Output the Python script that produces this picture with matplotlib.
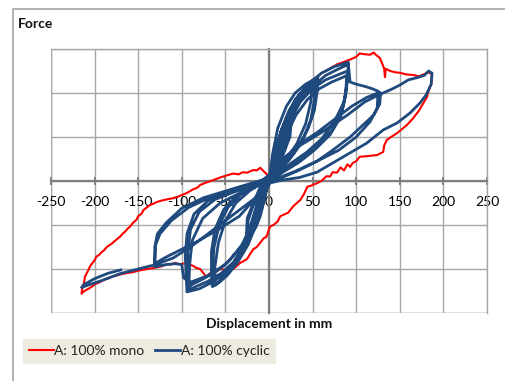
import matplotlib
matplotlib.use("Agg")
import matplotlib.pyplot as plt
from matplotlib.patches import Rectangle

plt.rcParams['font.family'] = ['Lato', 'DejaVu Sans']
plt.rcParams['axes.unicode_minus'] = False

# ---------------- data ----------------
x_ticks = [-250, -200, -150, -100, -50, 0, 50, 100, 150, 200, 250]
x_tick_labels = ['-250', '-200', '-150', '-100', '-50', '0', '50', '100', '150', '200', '250']
y_grid = [-3, -2, -1, 0, 1, 2, 3]

# monotonic test (red)
mono_x = [0, 5, 10, 15, 20, 25, 30, 35, 40, 45, 50, 55, 60, 65, 70, 78, 85, 93, 100, 104, 110, 116, 120, 123, 127,
          130, 132, 133, 134, 139, 145, 150, 158, 165, 172, 178, 183, 187,
          186, 183, 181, 177, 172, 165, 158, 150, 147, 140, 135, 132, 131, 124, 115, 104, 100, 96, 93, 90, 86, 82,
          78, 73, 70, 66, 60, 55, 49, 44, 40, 36, 32, 28, 22, 13, 10, 5, 1, -3, -6, -10, -14, -18, -22, -25, -30,
          -33, -38, -41, -45, -50, -56, -62, -68, -72, -75, -79, -84, -87, -91, -96, -102, -108, -113, -117, -122,
          -125, -133, -140, -145, -150, -156, -165, -170, -175, -180, -185, -190, -194, -199, -203, -207, -210,
          -213, -215,
          -214, -212, -211, -208, -205, -202, -200, -198, -195, -192, -189, -186, -183, -180, -178, -176, -173,
          -171, -168, -165, -162, -160, -156, -152, -150, -146, -144, -140, -137, -133, -129, -124, -120, -115,
          -110, -105, -100, -94, -87, -82, -79, -74, -70, -64, -56, -48, -41, -35, -30, -25, -18, -14, -10, -5, 0]
mono_y = [0, 0.42, 0.78, 1.05, 1.3, 1.5, 1.72, 1.9, 2.05, 2.15, 2.27, 2.36, 2.45, 2.5, 2.56, 2.65, 2.7, 2.76, 2.82,
          2.9, 2.88, 2.87, 2.92, 2.86, 2.8, 2.66, 2.56, 2.36, 2.55, 2.5, 2.47, 2.46, 2.42, 2.41, 2.38, 2.43, 2.47,
          2.42,
          2.2, 2.05, 1.9, 1.77, 1.6, 1.42, 1.27, 1.14, 1.09, 1.0, 0.93, 0.8, 0.66, 0.59, 0.57, 0.55, 0.45, 0.41,
          0.32, 0.38, 0.24, 0.31, 0.19, 0.2, 0.1, 0.11, 0.0, -0.05, -0.1, -0.13, -0.3, -0.43, -0.5, -0.57, -0.72,
          -0.8, -0.92, -1.0, -1.04, -1.27, -1.3, -1.4, -1.5, -1.55, -1.67, -1.77, -1.83, -1.86, -1.95, -2.0, -1.93,
          -2.02, -2.0, -2.07, -2.1, -2.18, -2.1, -2.0, -1.97, -1.93, -1.9, -1.87, -1.89, -1.86, -1.9, -1.89, -1.93,
          -1.95, -1.98, -2.0, -2.02, -2.04, -2.07, -2.1, -2.12, -2.15, -2.17, -2.22, -2.25, -2.3, -2.34, -2.4,
          -2.45, -2.48, -2.52, -2.56,
          -2.42, -2.3, -2.17, -2.06, -1.93, -1.85, -1.8, -1.72, -1.68, -1.62, -1.57, -1.5, -1.46, -1.42, -1.38,
          -1.35, -1.3, -1.27, -1.2, -1.15, -1.08, -1.05, -0.95, -0.88, -0.8, -0.74, -0.66, -0.6, -0.55, -0.52,
          -0.48, -0.45, -0.43, -0.41, -0.39, -0.36, -0.32, -0.27, -0.19, -0.15, -0.09, -0.05, -0.02, 0.02, 0.08,
          0.13, 0.17, 0.15, 0.2, 0.19, 0.25, 0.24, 0.3, 0.2, 0.1]

# cyclic test (blue), one list pair per amplitude group
cyc25_x = [0, 5, 10, 15, 20, 25, 23, 18, 10, 0, -5, -10, -15, -20, -25, -24, -18, -10, 0,
           5, 12, 20, 26, 24, 15, 5, -2, -8, -16, -26, -25, -17, -8, 0]
cyc25_y = [0, 0.5, 0.9, 1.2, 1.4, 1.5, 1.1, 0.7, 0.35, 0.05, -0.4, -0.8, -1.05, -1.2, -1.3, -0.9, -0.55, -0.3, 0,
           0.45, 0.95, 1.3, 1.45, 1.0, 0.55, 0.2, -0.1, -0.6, -1.0, -1.25, -0.85, -0.45, -0.2, 0]

cyc60_x = [4, 10, 20, 30, 42, 56, 55, 52, 45, 35, 22, 10, -4, -8, -14, -24, -36, -48, -60, -65, -66, -66, -62, -52,
           -38, -20, 4,
           8, 14, 23, 34, 44, 53, 52, 48, 40, 28, 15, -2, -10, -17, -27, -39, -50, -58, -64, -65, -63, -57, -47, -32,
           -15, 6,
           10, 17, 26, 36, 45, 50, 48, 42, 32, 20, 8, -8, -15, -24, -35, -46, -56, -62, -62, -58, -50, -38, -22, -8, 2]
cyc60_y = [0.6, 1.2, 1.7, 2.0, 2.2, 2.36, 2.0, 1.6, 1.2, 0.8, 0.45, 0.2, -0.05, -0.4, -0.95, -1.45, -1.85, -2.15,
           -2.35, -2.4, -2.1, -1.6, -1.1, -0.65, -0.35, -0.15, 0.05,
           0.6, 1.15, 1.6, 1.95, 2.15, 2.28, 1.85, 1.4, 1.0, 0.62, 0.32, 0.05, -0.5, -1.0, -1.5, -1.9, -2.15, -2.3,
           -2.38, -2.05, -1.5, -1.0, -0.6, -0.3, -0.12, 0.1,
           0.55, 1.1, 1.55, 1.9, 2.1, 2.2, 1.8, 1.3, 0.85, 0.5, 0.15, -0.1, -0.6, -1.2, -1.7, -2.05, -2.28, -2.35,
           -1.95, -1.4, -0.9, -0.5, -0.22, -0.05, 0.05]

cyc90_x = [5, 12, 20, 30, 45, 60, 75, 91, 90, 86, 75, 60, 43, 25, 10, -6, -10, -16, -25, -37, -50, -65, -80, -94,
           -95, -96, -94, -86, -70, -48, -25, 3,
           9, 16, 25, 36, 50, 65, 80, 90, 89, 84, 72, 56, 38, 20, 2, -9, -17, -28, -41, -55, -70, -84, -92, -93,
           -93, -90, -80, -62, -40, -18, 5,
           12, 20, 31, 44, 58, 72, 84, 89, 88, 82, 70, 52, 34, 16, -3, -12, -20, -31, -45, -60, -75, -88, -92, -91,
           -88, -76, -56, -34, -14, 0]
cyc90_y = [0.5, 1.0, 1.45, 1.85, 2.2, 2.45, 2.6, 2.7, 2.3, 1.8, 1.35, 0.95, 0.65, 0.4, 0.15, -0.1, -0.45, -0.95,
           -1.4, -1.8, -2.1, -2.3, -2.45, -2.52, -2.2, -1.7, -1.2, -0.75, -0.45, -0.28, -0.12, 0.05,
           0.45, 0.95, 1.4, 1.8, 2.1, 2.3, 2.42, 2.5, 2.1, 1.6, 1.15, 0.8, 0.5, 0.28, 0.0, -0.45, -0.95, -1.45,
           -1.85, -2.1, -2.28, -2.4, -2.48, -2.1, -1.6, -1.1, -0.7, -0.42, -0.25, -0.1, 0.1,
           0.5, 1.05, 1.5, 1.85, 2.1, 2.25, 2.35, 2.4, 1.95, 1.45, 1.05, 0.7, 0.42, 0.2, -0.05, -0.5, -1.0, -1.45,
           -1.8, -2.05, -2.22, -2.35, -2.42, -1.9, -1.35, -0.85, -0.5, -0.28, -0.1, 0]

cyc125_x = [5, 12, 22, 35, 50, 65, 80, 91, 93, 100, 110, 118, 124, 128, 127, 120, 112, 93, 73, 55, 35, 15, -5,
            -10, -18, -32, -50, -70, -90, -98, -100, -108, -118, -131, -131, -128, -118, -100, -75, -45, -20, 6,
            14, 32, 55, 75, 95, 112, 125, 124, 116, 100, 80, 55, 30, 10, -8, -16, -34, -58, -80, -105, -120, -131,
            -130, -125, -112, -92, -65, -35, -10]
cyc125_y = [0.45, 1.0, 1.45, 1.85, 2.15, 2.4, 2.55, 2.65, 2.25, 2.2, 2.15, 2.1, 2.05, 2.0, 1.75, 1.5, 1.35, 1.0,
            0.7, 0.45, 0.25, 0.08, -0.05, -0.4, -1.0, -1.5, -1.9, -2.15, -2.3, -2.2, -1.9, -1.88, -1.9, -1.95,
            -1.5, -1.2, -0.95, -0.62, -0.38, -0.2, -0.05, 0.1,
            0.4, 0.8, 1.1, 1.4, 1.7, 1.9, 2.0, 1.65, 1.35, 1.0, 0.7, 0.45, 0.22, 0.06, -0.05, -0.4, -0.8, -1.1,
            -1.35, -1.6, -1.75, -1.88, -1.45, -1.2, -0.9, -0.6, -0.35, -0.15, -0.02]

cyc200_x = [4, 15, 35, 60, 90, 110, 125, 140, 150, 160, 170, 178, 183, 187, 186, 180, 173, 162, 147, 131, 112, 93,
            73, 55, 35, 15, 0, -10, -30, -50, -70, -90, -110, -130, -150, -170, -190, -205, -215, -212, -200, -185,
            -170]
cyc200_y = [0.2, 0.5, 0.8, 1.1, 1.5, 1.8, 1.95, 2.08, 2.18, 2.3, 2.35, 2.4, 2.5, 2.45, 2.2, 1.95, 1.77, 1.55,
            1.32, 1.16, 0.86, 0.64, 0.41, 0.2, 0.08, 0.02, -0.05, -0.3, -0.6, -0.9, -1.2, -1.5, -1.75, -1.9, -2.0,
            -2.1, -2.25, -2.35, -2.42, -2.35, -2.22, -2.1, -2.02]

cyclic_x = cyc25_x + cyc60_x + cyc90_x + cyc125_x + cyc200_x
cyclic_y = cyc25_y + cyc60_y + cyc90_y + cyc125_y + cyc200_y

series_labels = ['A: 100% mono', 'A: 100% cyclic']
series_colors = ['#ff0000', '#1f4a7e']

# ---------------- figure ----------------
W, H = 505, 381
fig = plt.figure(figsize=(W / 100, H / 100), dpi=100)
fig.patch.set_facecolor('white')

# outer chart-area border
fig.patches.append(Rectangle((13 / W, -0.05), 1.2, (H - 9) / H + 0.05, transform=fig.transFigure,
                             fill=False, edgecolor='#a6a6a6', linewidth=1.2))

ax = fig.add_axes([51 / W, (H - 313) / H, (487 - 51) / W, (313 - 49) / H])
ax.set_xlim(-250, 250)
ax.set_ylim(-3, 3)

grid_c = '#a6a6a6'
ax.set_xticks(x_ticks)
ax.set_xticklabels(x_tick_labels, fontsize=10, color='#222222')
ax.set_yticks(y_grid)
ax.set_yticklabels([])
ax.grid(True, color=grid_c, linewidth=1.0)
ax.set_axisbelow(True)

for s in ['top', 'right']:
    ax.spines[s].set_color(grid_c)
    ax.spines[s].set_linewidth(1.0)
ax.spines['bottom'].set_position(('data', 0))
ax.spines['left'].set_position(('data', 0))
for s in ['bottom', 'left']:
    ax.spines[s].set_color('#7f7f7f')
    ax.spines[s].set_linewidth(1.6)
ax.axvline(-250, color=grid_c, linewidth=1.0, zorder=0.5)
ax.axhline(-3, color=grid_c, linewidth=1.0, zorder=0.5)

ax.tick_params(axis='x', direction='inout', length=6, width=1.4, color='#7f7f7f', pad=8)
ax.tick_params(axis='y', length=0)

l1, = ax.plot(mono_x, mono_y, color=series_colors[0], linewidth=1.5, zorder=3)
l2, = ax.plot(cyclic_x, cyclic_y, color=series_colors[1], linewidth=2.0, zorder=4, solid_joinstyle='round')

fig.text(18 / W, 1 - 24 / H, 'Force', fontsize=10, fontweight='bold', ha='left', va='center', color='#111111')
fig.text(269 / W, 1 - 324 / H, 'Displacement in mm', fontsize=10, fontweight='bold', ha='center', va='center',
         color='#111111')

leg = fig.legend([l1, l2], series_labels, loc='center left', bbox_to_anchor=(23 / W, 1 - 351 / H),
                 ncol=2, fontsize=10, frameon=True, fancybox=False, facecolor='#eeece1', edgecolor='#eeece1',
                 framealpha=1, handlelength=1.8, handletextpad=0.05, columnspacing=0.75, borderpad=0.4,
                 borderaxespad=0)
for t in leg.get_texts():
    t.set_color('#222222')

fig.savefig('out.png', dpi=100)
